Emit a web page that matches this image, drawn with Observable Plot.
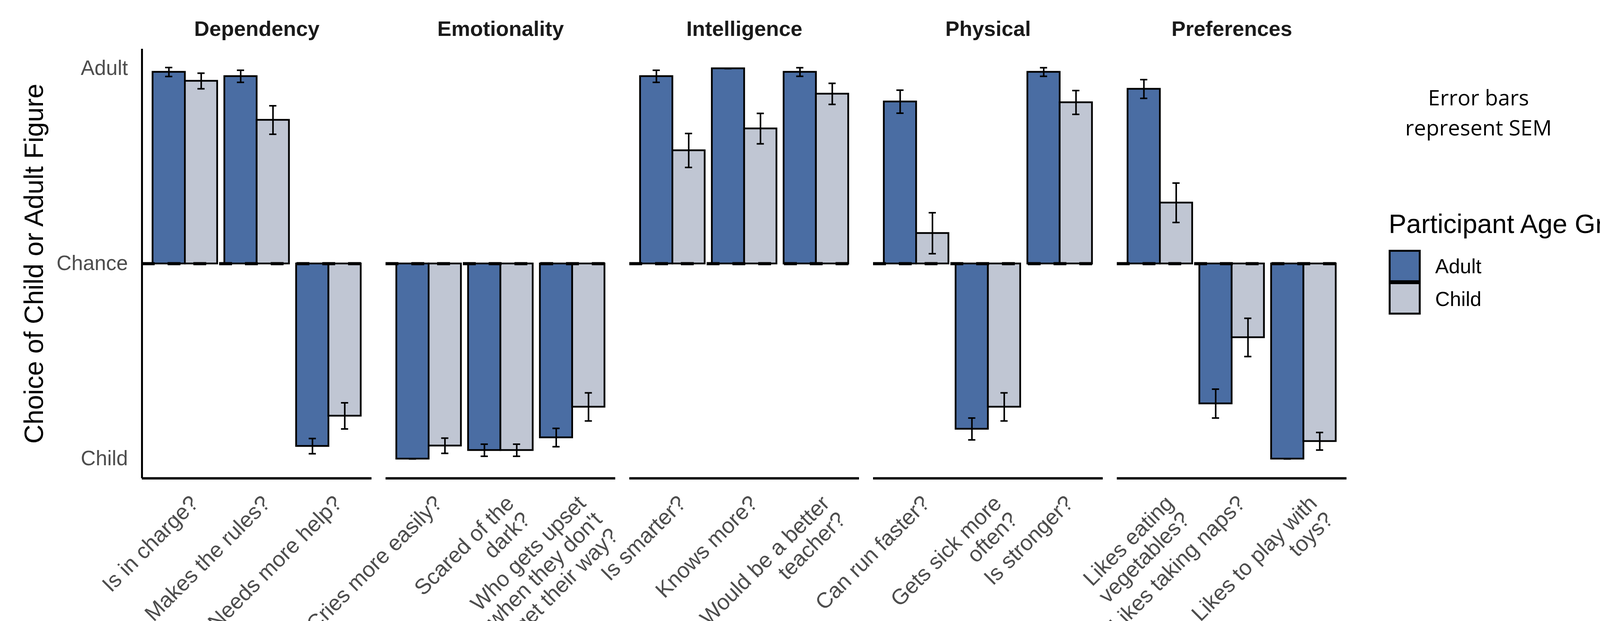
<!DOCTYPE html>
<html>
<head>
<meta charset="utf-8">
<script src="https://cdn.jsdelivr.net/npm/d3@7"></script>
<script src="https://cdn.jsdelivr.net/npm/@observablehq/plot@0.6"></script>
<style>
html, body { margin: 0; padding: 0; background: #fff; overflow: hidden; }
#wrap { position: relative; width: 4232px; height: 1591px; overflow: hidden; background: #fff; }
#chart { position: absolute; left: 0; top: 0; }
.lg-title { position: absolute; left: 3555px; top: 539px; font: 68px/68px "Liberation Sans", Arial, sans-serif; color: #000; white-space: nowrap; }
.lg-key { position: absolute; left: 3555px; width: 82px; height: 83px; box-sizing: border-box; border: 5px solid #000; }
.lg-label { position: absolute; left: 3674px; font: 52px/52px "Liberation Sans", Arial, sans-serif; color: #000; white-space: nowrap; }
.note { position: absolute; left: 3485px; width: 600px; top: 210px; text-align: center; font: 55px/77px "Open Sans", sans-serif; color: #000; }
.frag { position: absolute; left: 4188px; font: 88px/115px "Open Sans", sans-serif; color: #000; white-space: pre; }
</style>
</head>
<body>
<div id="wrap">
  <div id="chart"></div>
  <div class="note">Error bars<br>represent SEM</div>
  <div id="legend"></div>
  <div class="frag" style="top:-6px">C
o</div>
  <div class="frag" style="top:1108px">C
m
o
b</div>
</div>
<script>
// ---- data ----
const categories = ["Dependency", "Emotionality", "Intelligence", "Physical", "Preferences"];
const questionCategory = [
  "Dependency", "Dependency", "Dependency",
  "Emotionality", "Emotionality", "Emotionality",
  "Intelligence", "Intelligence", "Intelligence",
  "Physical", "Physical", "Physical",
  "Preferences", "Preferences", "Preferences"
];
const questions = [
  "Is in charge?", "Makes the rules?", "Needs more help?",
  "Cries more easily?", "Scared of the\ndark?", "Who gets upset\nwhen they don't\nget their way?",
  "Is smarter?", "Knows more?", "Would be a better\nteacher?",
  "Can run faster?", "Gets sick more\noften?", "Is stronger?",
  "Likes eating\nvegetables?", "Likes taking naps?", "Likes to play with\ntoys?"
];
const adultMean = [0.982, 0.960, -0.935, -1.000, -0.956, -0.891, 0.960, 1.000, 0.982, 0.830, -0.847, 0.982, 0.895, -0.717, -1.000];
const adultSE   = [0.023, 0.031, 0.039, 0.000, 0.031, 0.047, 0.031, 0.000, 0.022, 0.059, 0.056, 0.022, 0.048, 0.074, 0.000];
const childMean = [0.936, 0.736, -0.780, -0.933, -0.956, -0.734, 0.580, 0.692, 0.870, 0.156, -0.734, 0.826, 0.312, -0.378, -0.910];
const childSE   = [0.040, 0.073, 0.067, 0.039, 0.031, 0.072, 0.087, 0.078, 0.054, 0.105, 0.072, 0.061, 0.101, 0.098, 0.045];
const groups = ["Adult", "Child"];
const groupColors = ["#4a6da3", "#c0c6d3"];
const yTickValues = [1, 0, -1];
const yTickLabels = ["Adult", "Chance", "Child"];
const yTitle = "Choice of Child or Adult Figure";
const legendTitle = "Participant Age Group";

// ---- derived table ----
const dodge = 0.9;      // total dodge width (ggplot default)
const capWidth = 0.1;   // errorbar width
const slots = questions.map((q, i) =>
  questionCategory.slice(0, i + 1).filter(c => c === questionCategory[i]).length);
const questionRows = questions.map((q, i) => ({category: questionCategory[i], slot: slots[i], label: q}));
const rows = [];
questions.forEach((q, i) => {
  groups.forEach((g, j) => {
    const mean = j === 0 ? adultMean[i] : childMean[i];
    const se = j === 0 ? adultSE[i] : childSE[i];
    const x1 = slots[i] + (j === 0 ? -dodge / 2 : 0);
    const x2 = slots[i] + (j === 0 ? 0 : dodge / 2);
    rows.push({category: questionCategory[i], question: q, group: g, mean, se,
      x1, x2, xc: (x1 + x2) / 2, lo: mean - se, hi: mean + se});
  });
});

const chart = Plot.plot({
  width: 4232,
  height: 1591,
  marginLeft: 362,
  marginRight: 783,
  marginTop: 125,
  marginBottom: 366,
  style: {fontFamily: "'Liberation Sans', Arial, sans-serif", background: "white"},
  fx: {domain: categories, paddingInner: 36 / 625, paddingOuter: 0, axis: null, label: null},
  x: {domain: [0.4, 3.6], axis: null},
  y: {domain: [-1.1, 1.1], label: null},
  color: {domain: groups, range: groupColors},
  marks: [
    Plot.rect(rows, {fx: "category", x1: "x1", x2: "x2", y1: () => 0, y2: "mean",
      fill: "group", stroke: "black", strokeWidth: 4.5}),
    Plot.ruleX(rows, {fx: "category", x: "xc", y1: "lo", y2: "hi", stroke: "black", strokeWidth: 4}),
    Plot.ruleY(rows, {fx: "category", y: "hi", x1: d => d.xc - capWidth / 2, x2: d => d.xc + capWidth / 2,
      stroke: "black", strokeWidth: 4}),
    Plot.ruleY(rows, {fx: "category", y: "lo", x1: d => d.xc - capWidth / 2, x2: d => d.xc + capWidth / 2,
      stroke: "black", strokeWidth: 4}),
    Plot.ruleY([0], {stroke: "black", strokeWidth: 8, strokeDasharray: "33,33"}),
    Plot.ruleY([-1.1], {stroke: "black", strokeWidth: 6}),
    Plot.ruleX([0.4], {fx: () => categories[0], y1: () => -1.1, y2: () => 1.1, stroke: "black", strokeWidth: 5}),
    Plot.axisY({ticks: yTickValues, tickFormat: d => yTickLabels[yTickValues.indexOf(d)],
      tickSize: 0, tickPadding: 36, fontSize: 53, fill: "#4d4d4d", label: null}),
    Plot.text([yTitle], {fx: () => categories[0], text: d => d, frameAnchor: "left",
      textAnchor: "middle", rotate: -90, dx: -275, fontSize: 68, fill: "black"}),
    Plot.text(categories, {fx: d => d, text: d => d, frameAnchor: "top", dy: -33.5,
      lineAnchor: "bottom", fontWeight: "bold", fontSize: 54, fill: "#1a1a1a"}),
    Plot.text(questionRows, {fx: "category", x: "slot", text: "label", frameAnchor: "bottom",
      dx: 8, dy: 38, rotate: -45, textAnchor: "end", lineAnchor: "top", lineHeight: 1.05,
      fontSize: 56, fill: "#4d4d4d"})
  ]
});
document.getElementById("chart").appendChild(chart);

// ---- legend ----
const legend = document.getElementById("legend");
const t = document.createElement("div");
t.className = "lg-title";
t.textContent = legendTitle;
legend.appendChild(t);
const keyTops = [640, 723];
const labelTops = [656, 740];
groups.forEach((g, j) => {
  const k = document.createElement("div");
  k.className = "lg-key";
  k.style.top = keyTops[j] + "px";
  k.style.background = groupColors[j];
  legend.appendChild(k);
  const l = document.createElement("div");
  l.className = "lg-label";
  l.style.top = labelTops[j] + "px";
  l.textContent = g;
  legend.appendChild(l);
});
</script>
</body>
</html>
